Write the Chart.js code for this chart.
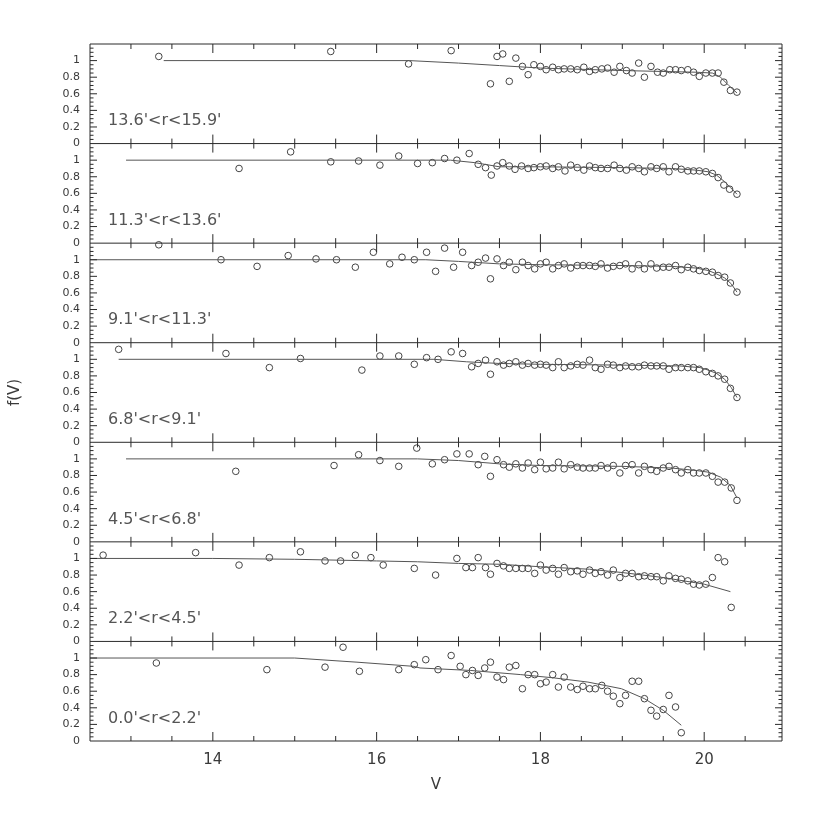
<!DOCTYPE html>
<html>
<head>
<meta charset="utf-8">
<script src="https://cdn.jsdelivr.net/npm/chart.js@4.4.1/dist/chart.umd.min.js"></script>
<style>
  html, body { margin: 0; padding: 0; background: #fff; }
  #wrap { width: 830px; height: 830px; }
</style>
</head>
<body>
<div id="wrap"><canvas id="fv"></canvas></div>
<script>
// tick labels
const xTicks = [14, 16, 18, 20];
const yTicks = [0, 0.2, 0.4, 0.6, 0.8, 1];

// panel names, top to bottom
const panelLabels = ["13.6'<r<15.9'", "11.3'<r<13.6'", "9.1'<r<11.3'", "6.8'<r<9.1'",
                     "4.5'<r<6.8'", "2.2'<r<4.5'", "0.0'<r<2.2'"];

// 13.6'<r<15.9'
const v1 = [13.34, 15.44, 16.39, 16.91, 17.39, 17.47, 17.54, 17.62, 17.70, 17.78, 17.85, 17.92, 18.00, 18.07, 18.15,
            18.22, 18.29, 18.37, 18.45, 18.53, 18.60, 18.67, 18.75, 18.82, 18.90, 18.97, 19.05, 19.12, 19.20, 19.27,
            19.35, 19.43, 19.50, 19.58, 19.65, 19.72, 19.80, 19.87, 19.94, 20.02, 20.10, 20.17, 20.24, 20.32, 20.40];
const f1 = [1.05, 1.11, 0.96, 1.12, 0.72, 1.05, 1.08, 0.75, 1.03, 0.93, 0.83, 0.95, 0.93, 0.89, 0.92,
            0.89, 0.90, 0.90, 0.89, 0.92, 0.87, 0.89, 0.90, 0.91, 0.86, 0.93, 0.88, 0.85, 0.97, 0.80,
            0.93, 0.86, 0.85, 0.89, 0.89, 0.88, 0.89, 0.86, 0.81, 0.85, 0.85, 0.85, 0.74, 0.64, 0.62];
const fitV1 = [13.4, 16.4, 17.0, 17.5, 18.0, 19.0, 19.9, 20.1, 20.2, 20.3, 20.4];
const fitF1 = [1.0, 1.0, 0.97, 0.94, 0.91, 0.88, 0.86, 0.85, 0.80, 0.70, 0.61];

// 11.3'<r<13.6'
const v2 = [14.32, 14.95, 15.44, 15.78, 16.04, 16.27, 16.50, 16.68, 16.83, 16.98, 17.13, 17.24, 17.33, 17.40, 17.47,
            17.54, 17.62, 17.69, 17.77, 17.85, 17.92, 18.00, 18.07, 18.15, 18.22, 18.30, 18.37, 18.45, 18.53, 18.60,
            18.67, 18.74, 18.82, 18.90, 18.97, 19.05, 19.12, 19.20, 19.27, 19.35, 19.42, 19.50, 19.57, 19.65, 19.72,
            19.80, 19.87, 19.94, 20.02, 20.10, 20.17, 20.24, 20.31, 20.40];
const f2 = [0.90, 1.10, 0.98, 0.99, 0.94, 1.05, 0.96, 0.97, 1.02, 1.00, 1.08, 0.95, 0.91, 0.82, 0.93,
            0.97, 0.93, 0.89, 0.93, 0.90, 0.91, 0.92, 0.93, 0.90, 0.92, 0.87, 0.94, 0.91, 0.88, 0.93,
            0.91, 0.90, 0.90, 0.94, 0.90, 0.88, 0.92, 0.90, 0.86, 0.92, 0.90, 0.92, 0.86, 0.92, 0.89,
            0.87, 0.87, 0.87, 0.86, 0.84, 0.79, 0.70, 0.65, 0.59];
const fitV2 = [12.94, 16.9, 17.2, 17.5, 18.0, 19.0, 19.6, 19.9, 20.05, 20.15, 20.25, 20.32, 20.4];
const fitF2 = [1.0, 1.0, 0.97, 0.92, 0.92, 0.91, 0.90, 0.88, 0.86, 0.82, 0.74, 0.67, 0.59];

// 9.1'<r<11.3'
const v3 = [13.34, 14.10, 14.54, 14.92, 15.26, 15.51, 15.74, 15.96, 16.16, 16.31, 16.46, 16.61, 16.72, 16.83, 16.94,
            17.05, 17.16, 17.24, 17.33, 17.39, 17.47, 17.55, 17.62, 17.70, 17.78, 17.85, 17.93, 18.00, 18.07, 18.15,
            18.22, 18.29, 18.37, 18.45, 18.52, 18.60, 18.67, 18.74, 18.82, 18.89, 18.97, 19.04, 19.12, 19.20, 19.27,
            19.35, 19.42, 19.50, 19.57, 19.65, 19.72, 19.80, 19.87, 19.94, 20.02, 20.10, 20.17, 20.25, 20.32, 20.40];
const f3 = [1.18, 1.00, 0.92, 1.05, 1.01, 1.00, 0.91, 1.09, 0.95, 1.03, 1.00, 1.09, 0.86, 1.14, 0.91,
            1.09, 0.93, 0.97, 1.02, 0.77, 1.01, 0.93, 0.97, 0.88, 0.97, 0.93, 0.89, 0.95, 0.97, 0.89,
            0.93, 0.95, 0.90, 0.93, 0.93, 0.93, 0.92, 0.95, 0.90, 0.92, 0.93, 0.95, 0.89, 0.94, 0.89,
            0.95, 0.90, 0.91, 0.91, 0.93, 0.88, 0.91, 0.89, 0.87, 0.86, 0.85, 0.81, 0.79, 0.72, 0.61];
const fitV3 = [12.5, 16.6, 17.0, 17.5, 18.0, 19.0, 19.6, 19.9, 20.05, 20.15, 20.25, 20.33, 20.4];
const fitF3 = [1.0, 1.0, 0.98, 0.95, 0.94, 0.93, 0.92, 0.90, 0.87, 0.83, 0.78, 0.71, 0.61];

// 6.8'<r<9.1'
const v4 = [12.85, 14.16, 14.69, 15.07, 15.82, 16.04, 16.27, 16.46, 16.61, 16.75, 16.91, 17.05, 17.16, 17.24, 17.33,
            17.39, 17.47, 17.55, 17.62, 17.70, 17.78, 17.85, 17.93, 18.00, 18.07, 18.15, 18.22, 18.29, 18.37, 18.45,
            18.52, 18.60, 18.67, 18.74, 18.82, 18.89, 18.97, 19.04, 19.12, 19.20, 19.27, 19.35, 19.42, 19.50, 19.57,
            19.65, 19.72, 19.80, 19.87, 19.94, 20.02, 20.10, 20.17, 20.25, 20.32, 20.40];
const f4 = [1.12, 1.07, 0.90, 1.01, 0.87, 1.04, 1.04, 0.94, 1.02, 1.00, 1.09, 1.07, 0.91, 0.95, 0.99,
            0.82, 0.97, 0.93, 0.95, 0.97, 0.93, 0.95, 0.93, 0.94, 0.93, 0.90, 0.97, 0.90, 0.92, 0.94,
            0.93, 0.99, 0.90, 0.88, 0.94, 0.93, 0.90, 0.92, 0.91, 0.91, 0.93, 0.92, 0.92, 0.92, 0.88,
            0.90, 0.90, 0.90, 0.90, 0.88, 0.85, 0.83, 0.80, 0.76, 0.65, 0.54];
const fitV4 = [12.85, 16.7, 17.1, 17.5, 18.0, 19.0, 19.7, 19.95, 20.05, 20.15, 20.25, 20.33, 20.4];
const fitF4 = [1.0, 1.0, 0.97, 0.95, 0.94, 0.93, 0.92, 0.90, 0.87, 0.83, 0.76, 0.66, 0.54];

// 4.5'<r<6.8'
const v5 = [14.28, 15.48, 15.78, 16.04, 16.27, 16.49, 16.68, 16.83, 16.98, 17.13, 17.24, 17.32, 17.39, 17.47, 17.55,
            17.62, 17.70, 17.78, 17.85, 17.93, 18.00, 18.07, 18.15, 18.22, 18.29, 18.37, 18.45, 18.52, 18.60, 18.67,
            18.74, 18.82, 18.89, 18.97, 19.04, 19.12, 19.20, 19.27, 19.35, 19.42, 19.50, 19.57, 19.65, 19.72, 19.80,
            19.87, 19.94, 20.02, 20.10, 20.17, 20.25, 20.33, 20.40];
const f5 = [0.85, 0.92, 1.05, 0.98, 0.91, 1.13, 0.94, 0.99, 1.06, 1.06, 0.93, 1.03, 0.79, 0.99, 0.93,
            0.90, 0.94, 0.89, 0.95, 0.87, 0.96, 0.88, 0.89, 0.96, 0.88, 0.93, 0.90, 0.89, 0.89, 0.89,
            0.92, 0.89, 0.92, 0.83, 0.92, 0.93, 0.83, 0.91, 0.87, 0.85, 0.89, 0.91, 0.87, 0.83, 0.87,
            0.83, 0.83, 0.83, 0.79, 0.72, 0.72, 0.65, 0.50];
const fitV5 = [12.94, 16.5, 17.0, 17.5, 18.0, 19.0, 19.6, 19.9, 20.05, 20.2, 20.32, 20.4];
const fitF5 = [1.0, 1.0, 0.98, 0.94, 0.92, 0.91, 0.89, 0.86, 0.84, 0.78, 0.68, 0.53];

// 2.2'<r<4.5'
const v6 = [12.66, 13.79, 14.32, 14.69, 15.07, 15.37, 15.56, 15.74, 15.93, 16.08, 16.46, 16.72, 16.98, 17.09, 17.17,
            17.24, 17.33, 17.39, 17.47, 17.55, 17.62, 17.70, 17.78, 17.85, 17.93, 18.00, 18.07, 18.15, 18.22, 18.29,
            18.37, 18.45, 18.52, 18.60, 18.67, 18.74, 18.82, 18.89, 18.97, 19.04, 19.12, 19.20, 19.27, 19.35, 19.42,
            19.50, 19.57, 19.65, 19.72, 19.80, 19.87, 19.94, 20.02, 20.10, 20.17, 20.25, 20.33];
const f6 = [1.04, 1.07, 0.92, 1.01, 1.08, 0.97, 0.97, 1.04, 1.01, 0.92, 0.88, 0.80, 1.00, 0.89, 0.89,
            1.01, 0.89, 0.81, 0.94, 0.91, 0.88, 0.88, 0.88, 0.88, 0.82, 0.92, 0.86, 0.88, 0.81, 0.89,
            0.84, 0.85, 0.81, 0.86, 0.82, 0.84, 0.80, 0.86, 0.77, 0.82, 0.82, 0.78, 0.79, 0.78, 0.78,
            0.73, 0.79, 0.76, 0.75, 0.73, 0.69, 0.68, 0.69, 0.77, 1.01, 0.96, 0.41];
const fitV6 = [12.5, 14.0, 15.0, 16.0, 16.5, 17.0, 17.5, 18.0, 18.6, 19.0, 19.5, 20.0, 20.32];
const fitF6 = [1.0, 1.0, 0.99, 0.97, 0.96, 0.94, 0.93, 0.90, 0.87, 0.83, 0.77, 0.69, 0.60];

// 0.0'<r<2.2'
const v7 = [13.31, 14.66, 15.37, 15.59, 15.79, 16.27, 16.46, 16.60, 16.75, 16.91, 17.02, 17.09, 17.17, 17.24, 17.32,
            17.39, 17.47, 17.55, 17.62, 17.70, 17.78, 17.85, 17.93, 18.00, 18.07, 18.15, 18.22, 18.29, 18.37, 18.45,
            18.52, 18.60, 18.67, 18.75, 18.82, 18.89, 18.97, 19.04, 19.12, 19.20, 19.27, 19.35, 19.42, 19.50, 19.57,
            19.65, 19.72];
const f7 = [0.94, 0.86, 0.89, 1.13, 0.84, 0.86, 0.92, 0.98, 0.86, 1.03, 0.90, 0.80, 0.85, 0.79, 0.88,
            0.95, 0.77, 0.74, 0.89, 0.91, 0.63, 0.80, 0.80, 0.69, 0.71, 0.80, 0.65, 0.77, 0.65, 0.62,
            0.66, 0.63, 0.63, 0.67, 0.60, 0.54, 0.45, 0.55, 0.72, 0.72, 0.51, 0.37, 0.30, 0.38, 0.55,
            0.41, 0.10];
const fitV7 = [12.5, 15.0, 15.76, 16.45, 16.53, 17.15, 17.76, 18.17, 18.58, 18.99, 19.27, 19.5, 19.72];
const fitF7 = [1.0, 1.0, 0.95, 0.90, 0.88, 0.85, 0.80, 0.76, 0.71, 0.63, 0.51, 0.37, 0.19];

const panels = [
    { label: panelLabels[0], v: v1, f: f1, fv: fitV1, ff: fitF1 },
    { label: panelLabels[1], v: v2, f: f2, fv: fitV2, ff: fitF2 },
    { label: panelLabels[2], v: v3, f: f3, fv: fitV3, ff: fitF3 },
    { label: panelLabels[3], v: v4, f: f4, fv: fitV4, ff: fitF4 },
    { label: panelLabels[4], v: v5, f: f5, fv: fitV5, ff: fitF5 },
    { label: panelLabels[5], v: v6, f: f6, fv: fitV6, ff: fitF6 },
    { label: panelLabels[6], v: v7, f: f7, fv: fitV7, ff: fitF7 },
];

const ink = "#3a3a3a";
const fontFamily = "'DejaVu Sans', sans-serif";

function pairs(xs, ys) {
    return xs.map((x, i) => ({ x: x, y: ys[i] }));
}

const datasets = [];
panels.forEach((p, i) => {
    datasets.push({
        label: p.label + " fit",
        data: pairs(p.fv, p.ff),
        yAxisID: "y" + i,
        showLine: true,
        borderColor: "#555",
        borderWidth: 1,
        pointRadius: 0,
        tension: 0,
    });
    datasets.push({
        label: p.label,
        data: pairs(p.v, p.f),
        yAxisID: "y" + i,
        showLine: false,
        pointStyle: "circle",
        pointRadius: 3.3,
        pointBorderWidth: 1,
        pointBorderColor: "#444",
        pointBackgroundColor: "rgba(255,255,255,0)",
        clip: false,
    });
});

const scales = {
    x: {
        type: "linear",
        position: "bottom",
        min: 12.5,
        max: 20.95,
        afterBuildTicks: (s) => { s.ticks = xTicks.map((v) => ({ value: v })); },
        afterFit: (s) => { s.height = 89; },
        grid: { display: false, drawTicks: false },
        border: { display: false },
        ticks: { padding: 10, color: ink, autoSkip: false, maxRotation: 0,
                 font: { family: fontFamily, size: 15 } },
        title: { display: true, text: "V", color: ink,
                 font: { family: fontFamily, size: 15 }, padding: { top: 0, bottom: 36 } },
    },
};
panels.forEach((p, i) => {
    scales["y" + i] = {
        type: "linear",
        position: "left",
        stack: "fv",
        stackWeight: 1,
        weight: panels.length - i,
        min: 0,
        max: 1.2,
        afterBuildTicks: (s) => { s.ticks = yTicks.map((v) => ({ value: v })); },
        afterFit: (s) => { s.width = 90; },
        grid: { display: false, drawTicks: false },
        border: { display: false },
        ticks: { padding: 10, color: ink, autoSkip: false,
                 font: { family: fontFamily, size: 11 },
                 callback: (v) => String(v) },
        title: { display: i === 3, text: "f(V)", color: ink,
                 font: { family: fontFamily, size: 15 }, padding: { top: 6, bottom: 0 } },
    };
});

// frame, inward ticks and panel labels
const frameTicks = {
    id: "frameTicks",
    afterDatasetsDraw(chart) {
        const { ctx, chartArea: a, scales: sc } = chart;
        const x = sc.x;
        ctx.save();
        ctx.strokeStyle = "#2a2a2a";
        ctx.lineWidth = 1;
        ctx.beginPath();
        ctx.moveTo(a.left, a.top);
        ctx.lineTo(a.left, a.bottom);
        ctx.moveTo(a.right, a.top);
        ctx.lineTo(a.right, a.bottom);
        panels.forEach((p, i) => {
            const y = sc["y" + i];
            const top = y.getPixelForValue(y.max);
            const bot = y.getPixelForValue(0);
            ctx.moveTo(a.left, bot);
            ctx.lineTo(a.right, bot);
            if (i === 0) {
                ctx.moveTo(a.left, top);
                ctx.lineTo(a.right, top);
            }
            for (let v = 13; v < x.max; v += 0.5) {
                const px = x.getPixelForValue(v);
                const len = v % 2 === 0 ? 9 : 5;
                ctx.moveTo(px, bot);
                ctx.lineTo(px, bot - len);
                ctx.moveTo(px, top);
                ctx.lineTo(px, top + len);
            }
            for (let k = 1; k < 24; k++) {
                const py = y.getPixelForValue(k * 0.05);
                const len = k % 4 === 0 ? 7 : 3.5;
                ctx.moveTo(a.left, py);
                ctx.lineTo(a.left + len, py);
                ctx.moveTo(a.right, py);
                ctx.lineTo(a.right - len, py);
            }
        });
        ctx.stroke();

        ctx.fillStyle = "#555";
        ctx.font = "16px " + fontFamily;
        ctx.textAlign = "left";
        ctx.textBaseline = "alphabetic";
        panels.forEach((p, i) => {
            const y = sc["y" + i];
            ctx.fillText(p.label, x.getPixelForValue(12.72), y.getPixelForValue(0.22));
        });
        ctx.restore();
    },
};

new Chart(document.getElementById("fv").getContext("2d"), {
    type: "scatter",
    data: { datasets: datasets },
    options: {
        responsive: true,
        maintainAspectRatio: false,
        animation: false,
        devicePixelRatio: 1,
        layout: { padding: { top: 44, right: 48, bottom: 0, left: 0 } },
        plugins: { legend: { display: false }, tooltip: { enabled: false } },
        scales: scales,
    },
    plugins: [frameTicks],
});
</script>
</body>
</html>
